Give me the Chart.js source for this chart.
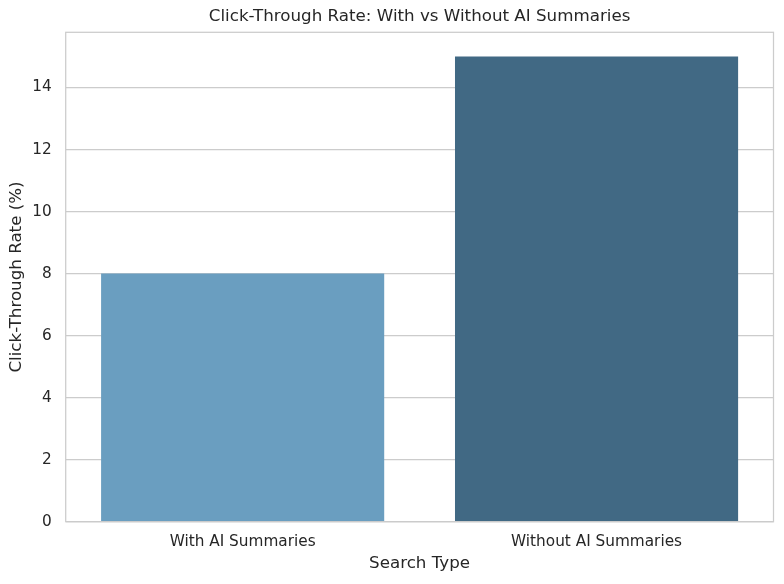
<!DOCTYPE html>
<html>
<head>
<meta charset="utf-8">
<script src="https://cdn.jsdelivr.net/npm/chart.js@4"></script>
<style>
  html, body { margin: 0; padding: 0; background: #fff; }
  #wrap { width: 784px; height: 584px; }
</style>
</head>
<body>
<div id="wrap"><canvas id="grafico" width="784" height="584"></canvas></div>
<script>
const titulo = 'Click-Through Rate: With vs Without AI Summaries';
const categorias = ['With AI Summaries', 'Without AI Summaries'];
const ctr = [8, 15];
const colores = ['#6a9ec0', '#416984'];
const yTicks = [0, 2, 4, 6, 8, 10, 12, 14];

const ctx = document.getElementById('grafico').getContext('2d');
const fuente = 'DejaVu Sans';
const texto = '#262626';

// marco gris alrededor del area y titulo centrado sobre el area (como matplotlib)
const marco = {
  id: 'marco',
  afterDraw(chart) {
    const a = chart.chartArea;
    const c = chart.ctx;
    c.save();
    c.strokeStyle = '#cccccc';
    c.lineWidth = 1.25;
    c.strokeRect(a.left, a.top, a.right - a.left, a.bottom - a.top);
    c.fillStyle = texto;
    c.font = '16.7px "' + fuente + '"';
    c.textAlign = 'center';
    c.textBaseline = 'middle';
    c.fillText(titulo, (a.left + a.right) / 2, 17);
    c.restore();
  }
};

new Chart(ctx, {
  type: 'bar',
  data: {
    labels: categorias,
    datasets: [{
      data: ctr,
      backgroundColor: colores,
      borderWidth: 0,
      categoryPercentage: 1,
      barPercentage: 0.8
    }]
  },
  options: {
    responsive: false,
    animation: false,
    layout: { padding: { left: 0, right: 10.5, top: 32.3, bottom: 0 } },
    plugins: {
      legend: { display: false },
      tooltip: { enabled: false },
      title: { display: false }
    },
    scales: {
      x: {
        grid: { display: false, drawTicks: false },
        border: { display: false },
        ticks: { color: texto, font: { family: fuente, size: 15.3 }, padding: 11 },
        title: {
          display: true, text: 'Search Type', color: texto,
          font: { family: fuente, size: 16.7 }, padding: { top: 4, bottom: 10 }
        },
        afterFit(s) { s.height = 62.3; }
      },
      y: {
        min: 0,
        max: 15.78,
        afterBuildTicks(s) { s.ticks = yTicks.map(v => ({ value: v })); },
        grid: { color: '#cccccc', lineWidth: 1.25, drawTicks: false },
        border: { display: false },
        ticks: { color: texto, font: { family: fuente, size: 15.3 }, padding: 14 },
        title: {
          display: true, text: 'Click-Through Rate (%)', color: texto,
          font: { family: fuente, size: 16.7 }, padding: { top: 7, bottom: 4 }
        },
        afterFit(s) { s.width = 65.7; }
      }
    }
  },
  plugins: [marco]
});
</script>
</body>
</html>
